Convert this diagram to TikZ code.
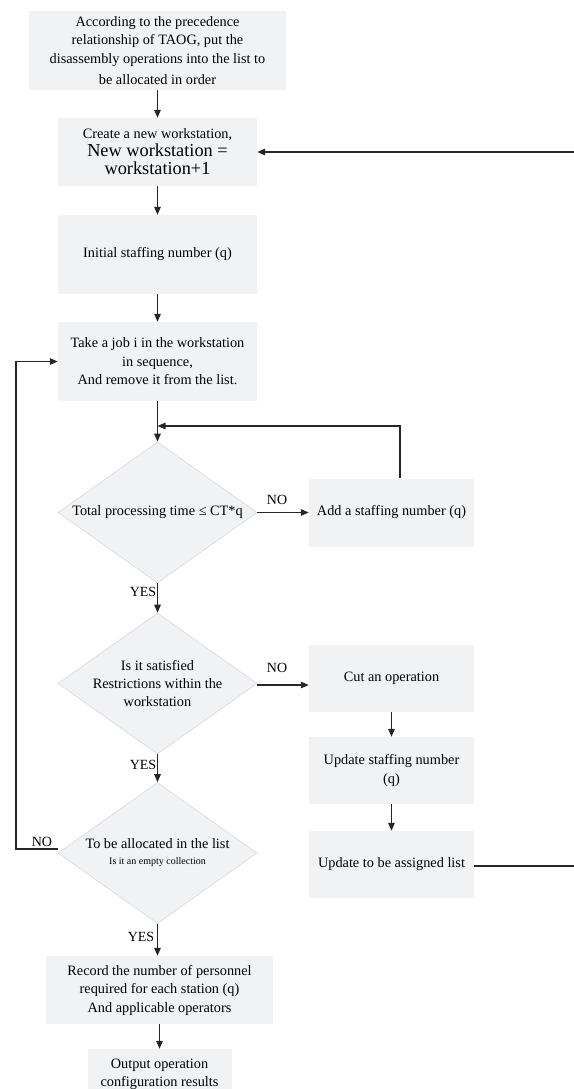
\documentclass[tikz,border=0pt]{standalone}
\usepackage{fontspec}
\setmainfont{Liberation Serif}
\usepackage{tikz}
\usetikzlibrary{arrows.meta}
\usetikzlibrary{shapes.geometric}
\definecolor{boxgray}{HTML}{F1F2F4}
\definecolor{edgegray}{HTML}{D3DAE3}
\definecolor{linegray}{HTML}{262626}
\newcommand{\bigtxt}{\fontsize{18.3}{22}\selectfont}
\newcommand{\smalltxt}{\fontsize{10}{12}\selectfont}
\tikzset{proc/.style = {fill=boxgray, inner sep=0, align=center, font=\fontsize{14.3}{18.5}\selectfont}}
\tikzset{dec/.style = {diamond, fill=boxgray, draw=edgegray, line width=0.6pt, inner sep=0, minimum width=199, minimum height=141}}
\tikzset{lab/.style = {font=\fontsize{14}{17}\selectfont, inner sep=0}}
\tikzset{conn/.style = {draw=linegray, line width=1.2pt, -{Triangle[length=8pt,width=6.5pt]}}}

\begin{document}
\begin{tikzpicture}[x=1pt, y=-1pt]
      \useasboundingbox (0, 0) rectangle (573, 1089);
      \node [proc, minimum width=257, minimum height=79] (b1) at (157.5, 50.5)
        {According to the precedence\\relationship of TAOG, put the\\disassembly operations into the list to\\[3pt]be allocated in order};
      \node [proc, minimum width=199, minimum height=68] (b2) at (157.5, 152)
        {Create a new workstation,\\[-1pt]{\bigtxt New workstation =}\\{\bigtxt workstation+1}};
      \node [proc, minimum width=199, minimum height=79] (b3) at (157.5, 254.5) {Initial staffing number (q)};
      \node [proc, minimum width=199, minimum height=79] (b4) at (157.5, 361.5)
        {Take a job i in the workstation\\in sequence,\\And remove it from the list.};
      \node [dec, label={[align=center, font=\fontsize{14.3}{18.5}\selectfont]center:Total processing time ≤ CT*q}] (d1) at (157.5, 512.5) {};
      \node [proc, minimum width=165, minimum height=68] (b5) at (391.5, 512.5) {Add a staffing number (q)};
      \node [dec, label={[align=center, font=\fontsize{14.3}{18}\selectfont]center:Is it satisfied\\Restrictions within the\\workstation}] (d2) at (157.5, 683.5) {};
      \node [proc, minimum width=165, minimum height=67] (b6) at (391.5, 678.5) {Cut an operation};
      \node [proc, minimum width=165, minimum height=67] (b7) at (391.5, 770.5) {Update staffing number\\(q)};
      \node [proc, minimum width=165, minimum height=67] (b8) at (391.5, 864.5) {Update to be assigned list};
      \node [dec, label={[align=center, font=\fontsize{14.3}{16}\selectfont]center:To be allocated in the list\\{\smalltxt Is it an empty collection}}] (d3) at (157.5, 853) {};
      \node [proc, minimum width=227, minimum height=68] (b9) at (159.5, 990)
        {Record the number of personnel\\required for each station (q)\\And applicable operators};
      \node [proc, minimum width=144, minimum height=51] (b10) at (159.5, 1074.5) {Output operation\\configuration results};
      % straight links
      \foreach \a/\b in {b1/b2, b2/b3, b3/b4, b4/d1, b6/b7, b7/b8, b9/b10} {
        \draw [conn] (\a) -- (\b);
      }
      \draw [conn] (d1) -- (d2);
      \draw [conn] (d2) -- (d3);
      \draw [conn] (d3.south) -- (d3.south |- b9.north);
      \draw [conn] (d1.east) -- (b5.west);
      \draw [conn] (d2.east |- 0, 685) -- (b6.west |- 0, 685);
      % loops back
      \coordinate (fb) at (157.5, 426);
      \draw [conn] ([xshift=8.5]b5.north) |- (fb);
      \coordinate (lft) at (16, 849);
      \draw [conn] (d3.west |- lft) -- (lft) |- (b4.west);
      \coordinate (rgt) at (580, 866);
      \draw [conn] (b8.east |- rgt) -- (rgt) |- (b2.east);
      % labels
      \node [lab] (no1) at (277, 500) {NO};
      \node [lab] (no2) at (277, 668) {NO};
      \node [lab] (no3) at (42, 842) {NO};
      \node [lab] (yes1) at (143, 592) {YES};
      \node [lab] (yes2) at (143, 765) {YES};
      \node [lab] (yes3) at (141, 937) {YES};
    \end{tikzpicture}
\end{document}
